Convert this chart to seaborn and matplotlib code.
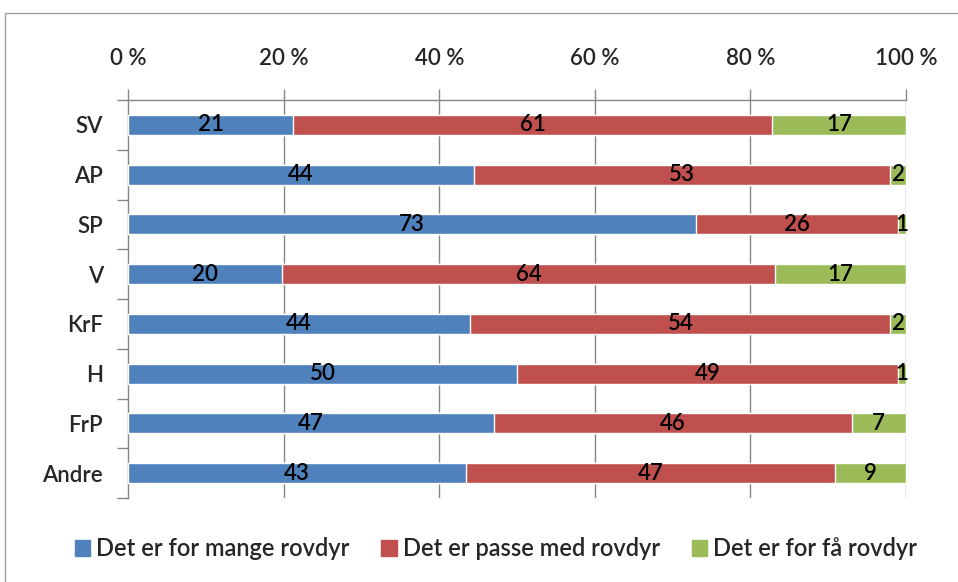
import matplotlib
matplotlib.use("Agg")
import matplotlib.pyplot as plt
import seaborn as sns
import pandas as pd
import numpy as np
from matplotlib.patches import Rectangle
from matplotlib.ticker import FixedLocator

categories = ["SV", "AP", "SP", "V", "KrF", "H", "FrP", "Andre"]
for_mange = [21, 44, 73, 20, 44, 50, 47, 43]
passe = [61, 53, 26, 64, 54, 49, 46, 47]
for_faa = [17, 2, 1, 17, 2, 1, 7, 9]
series_names = ["Det er for mange rovdyr", "Det er passe med rovdyr", "Det er for få rovdyr"]
x_ticklabels = ["0 %", "20 %", "40 %", "60 %", "80 %", "100 %"]
colors = ["#4F81BD", "#C0504D", "#9BBB59"]

sns.set_theme(style="white")
FONT = ["Lato", "DejaVu Sans"]
plt.rcParams["font.family"] = FONT
FS = 16
FW = "semibold"

df = pd.DataFrame({"cat": categories, "a": for_mange, "b": passe, "c": for_faa})
tot = df[["a", "b", "c"]].sum(axis=1)
df["pa"] = df["a"] / tot * 100
df["pb"] = df["b"] / tot * 100
df["pc"] = df["c"] / tot * 100
df["cum_b"] = df["pa"] + df["pb"]
df["cum_c"] = df["cum_b"] + df["pc"]

fig = plt.figure(figsize=(9.58, 5.82), dpi=100)
ax = fig.add_axes([128 / 958, 1 - 498 / 582, (906 - 128) / 958, (498 - 100) / 582])

grid_c = "#868686"
for v in [20, 40, 60, 80, 100]:
    ax.axvline(v, color=grid_c, lw=1.0, zorder=0)

w = 0.4
sns.barplot(data=df, x="cum_c", y="cat", color=colors[2], width=w, orient="h", ax=ax, zorder=2, saturation=1)
sns.barplot(data=df, x="cum_b", y="cat", color=colors[1], width=w, orient="h", ax=ax, zorder=3, saturation=1)
sns.barplot(data=df, x="pa", y="cat", color=colors[0], width=w, orient="h", ax=ax, zorder=4, saturation=1)

for i, row in df.iterrows():
    kw = dict(ha="center", va="center", fontsize=FS, fontweight=FW, color="black", zorder=5, family=FONT)
    ax.text(row["pa"] / 2, i, str(row["a"]), **kw)
    ax.text(row["pa"] + row["pb"] / 2, i, str(row["b"]), **kw)
    ax.text(row["cum_b"] + row["pc"] / 2, i, str(row["c"]), **kw)

ax.set_xlim(0, 100)
ax.set_ylim(len(categories) - 0.5, -0.5)
ax.set_xlabel("")
ax.set_ylabel("")

ax.xaxis.tick_top()
ax.set_xticks([0, 20, 40, 60, 80, 100])
ax.set_xticklabels(x_ticklabels, fontsize=FS, fontweight=FW, family=FONT)
ax.tick_params(axis="x", which="major", direction="out", length=8, width=1, color=grid_c, pad=14, top=True, bottom=False)

ax.set_yticks(range(len(categories)))
ax.set_yticklabels(categories, fontsize=FS, fontweight=FW, family=FONT)
ax.yaxis.set_minor_locator(FixedLocator(np.arange(-0.5, len(categories), 1.0)))
ax.tick_params(axis="y", which="major", length=0, pad=18, left=True)
ax.tick_params(axis="y", which="minor", direction="out", length=8, width=1, color=grid_c, left=True)

for s in ["bottom", "right"]:
    ax.spines[s].set_visible(False)
for s in ["top", "left"]:
    ax.spines[s].set_visible(True)
    ax.spines[s].set_color(grid_c)
    ax.spines[s].set_linewidth(1.0)

handles = [Rectangle((0, 0), 1, 1, color=c) for c in colors]
fig.legend(handles, series_names, loc="center", bbox_to_anchor=(496 / 958, 1 - 549 / 582), ncol=3, frameon=False,
           prop={"size": 17, "family": FONT, "weight": FW}, handlelength=0.65, handleheight=0.65, handletextpad=0.25,
           columnspacing=1.35)

frame = Rectangle((5 / 958, -0.1), 1.2, 1 - 13 / 582 + 0.1, transform=fig.transFigure, fill=False,
                  edgecolor="#A0A0A0", lw=1.0, clip_on=False)
fig.patches.append(frame)

fig.savefig("out.png", dpi=100)
